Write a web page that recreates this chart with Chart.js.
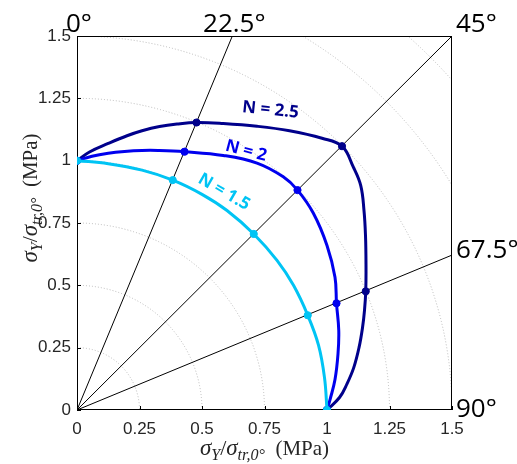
<!DOCTYPE html>
<html lang="en">
<head>
<meta charset="UTF-8">
<title>Yield loci</title>
<script src="https://cdn.jsdelivr.net/npm/chart.js"></script>
<style>
  body { margin: 0; background: #fff; }
  #wrap { width: 517px; height: 464px; }
</style>
</head>
<body>
<div id="wrap"><canvas id="locus"></canvas></div>
<script>
// values
const tickValues = [0, 0.25, 0.5, 0.75, 1, 1.25, 1.5];
const tickLabels = ['0', '0.25', '0.5', '0.75', '1', '1.25', '1.5'];
const angleValues = [0, 22.5, 45, 67.5, 90];
const angleLabels = ['0°', '22.5°', '45°', '67.5°', '90°'];
const arcRadii = [0.25, 0.5, 0.75, 1, 1.25, 1.5, 1.75, 2];
const seriesNames = ['N = 1.5', 'N = 2', 'N = 2.5'];

// N = 1.5
const n15X = [0, 0.125, 0.26, 0.383, 0.5, 0.6, 0.707, 0.8, 0.866, 0.923, 0.966, 0.99, 1];
const n15Y = [1, 0.988, 0.962, 0.922, 0.865, 0.8, 0.706, 0.6, 0.5, 0.38, 0.26, 0.13, 0];
const n15MarkX = [0, 0.383, 0.707, 0.923, 1];
const n15MarkY = [1, 0.922, 0.706, 0.38, 0];

// N = 2
const n2X = [0, 0.06, 0.125, 0.19, 0.26, 0.325, 0.43, 0.585, 0.72, 0.825, 0.882, 0.945, 1.0, 1.032, 1.038, 1.047, 1.044, 1.032, 1.013, 1];
const n2Y = [1, 1.018, 1.03, 1.037, 1.041, 1.041, 1.036, 1.021, 0.99, 0.935, 0.882, 0.79, 0.66, 0.532, 0.428, 0.32, 0.225, 0.122, 0.045, 0];
const n2MarkX = [0, 0.43, 0.882, 1.038, 1];
const n2MarkY = [1, 1.036, 0.882, 0.428, 0];

// N = 2.5
const n25X = [0, 0.05, 0.125, 0.2, 0.26, 0.33, 0.4, 0.478, 0.585, 0.72, 0.85, 0.98, 1.06, 1.105, 1.135, 1.148, 1.154, 1.156, 1.155, 1.15, 1.142, 1.128, 1.107, 1.08, 1.05, 1];
const n25Y = [1, 1.035, 1.069, 1.1, 1.12, 1.137, 1.147, 1.153, 1.149, 1.138, 1.12, 1.09, 1.058, 0.975, 0.9, 0.8, 0.7, 0.58, 0.476, 0.4, 0.33, 0.25, 0.17, 0.105, 0.05, 0];
const n25MarkX = [0, 0.478, 1.06, 1.155, 1];
const n25MarkY = [1, 1.153, 1.058, 0.476, 0];

const colours = ['#00c4f4', '#0000ee', '#00008b'];

// where the "N = ..." texts sit (data units) and their tilt in degrees
const curveLabelPos = [
  { x: 0.588, y: 0.874, rot: 30 },
  { x: 0.676, y: 1.039, rot: 15 },
  { x: 0.774, y: 1.203, rot: 6 }
];

function pts(xs, ys) {
  return xs.map((v, i) => ({ x: v, y: ys[i] }));
}

function lineSet(xs, ys, col, order) {
  return {
    data: pts(xs, ys), showLine: true, borderColor: col, borderWidth: 3,
    pointRadius: 0, tension: 0.4, fill: false, order: order
  };
}

function markSet(xs, ys, col, order) {
  return {
    data: pts(xs, ys), showLine: false, pointRadius: 3.6,
    pointBackgroundColor: col, pointBorderColor: col, pointBorderWidth: 1, order: order
  };
}

// axis title pieces: size in px, italic flag, lowered as subscript
const titleParts = () => [
  { t: 'σ', it: true, size: 23 }, { t: 'Y', it: true, sub: true, size: 16 },
  { t: '/', size: 22 },
  { t: 'σ', it: true, size: 23 }, { t: 'tr,0°', it: true, sub: true, size: 16 },
  { t: '  (MPa)', size: 21 }
];

function drawMath(ctx, parts, cx, base) {
  let total = 0;
  parts.forEach(p => {
    ctx.font = (p.it ? 'italic ' : '') + p.size + 'px "Liberation Serif"';
    p.w = ctx.measureText(p.t).width;
    total += p.w;
  });
  let x = cx - total / 2;
  parts.forEach(p => {
    ctx.font = (p.it ? 'italic ' : '') + p.size + 'px "Liberation Serif"';
    ctx.fillText(p.t, x, base + (p.sub ? 5 : 0));
    x += p.w;
  });
}

const polarDecor = {
  id: 'polarDecor',
  beforeDatasetsDraw(chart) {
    const { ctx, chartArea: a, scales: { x, y } } = chart;
    const ox = x.getPixelForValue(0), oy = y.getPixelForValue(0);
    ctx.save();
    ctx.beginPath();
    ctx.rect(a.left, a.top, a.right - a.left, a.bottom - a.top);
    ctx.clip();

    // dotted circles
    ctx.strokeStyle = '#b8b8b8';
    ctx.lineWidth = 1;
    ctx.setLineDash([1, 2]);
    arcRadii.forEach(r => {
      ctx.beginPath();
      ctx.ellipse(ox, oy, x.getPixelForValue(r) - ox, oy - y.getPixelForValue(r), 0, -Math.PI / 2, 0);
      ctx.stroke();
    });
    ctx.setLineDash([]);

    // radial lines
    ctx.strokeStyle = '#000';
    angleValues.forEach(deg => {
      const th = deg * Math.PI / 180, s = Math.sin(th), c = Math.cos(th);
      const t = 1.5 / Math.max(s, c);
      ctx.beginPath();
      ctx.moveTo(ox, oy);
      ctx.lineTo(x.getPixelForValue(t * s), y.getPixelForValue(t * c));
      ctx.stroke();
    });
    ctx.restore();

    // box and inward ticks
    ctx.save();
    ctx.strokeStyle = '#000';
    ctx.lineWidth = 1;
    ctx.strokeRect(a.left + 0.5, a.top + 0.5, a.right - a.left - 1, a.bottom - a.top - 1);
    ctx.beginPath();
    tickValues.forEach(v => {
      const px = Math.round(x.getPixelForValue(v)) + 0.5;
      ctx.moveTo(px, a.bottom);
      ctx.lineTo(px, a.bottom - 4);
      const py = Math.round(y.getPixelForValue(v)) + 0.5;
      ctx.moveTo(a.left, py);
      ctx.lineTo(a.left + 4, py);
    });
    ctx.stroke();
    ctx.restore();
  },
  afterDraw(chart) {
    const { ctx, chartArea: a, scales: { x, y } } = chart;
    ctx.save();

    // angle labels round the box
    ctx.fillStyle = '#000';
    ctx.font = '26px "Open Sans"';
    angleValues.forEach((deg, i) => {
      const th = deg * Math.PI / 180, s = Math.sin(th), c = Math.cos(th);
      const t = 1.5 / Math.max(s, c);
      if (deg < 45) {
        ctx.textAlign = 'center';
        ctx.textBaseline = 'alphabetic';
        ctx.fillText(angleLabels[i], x.getPixelForValue(t * s) + 2, a.top - 4);
      } else {
        ctx.textAlign = 'left';
        ctx.textBaseline = 'middle';
        ctx.fillText(angleLabels[i], a.right + 4, y.getPixelForValue(t * c * 1.03));
      }
    });

    // curve names
    ctx.font = 'bold 17px "Open Sans"';
    ctx.textAlign = 'center';
    ctx.textBaseline = 'middle';
    curveLabelPos.forEach((p, i) => {
      ctx.save();
      ctx.translate(x.getPixelForValue(p.x), y.getPixelForValue(p.y));
      ctx.rotate(p.rot * Math.PI / 180);
      ctx.fillStyle = colours[i];
      ctx.fillText(seriesNames[i], 0, 0);
      ctx.restore();
    });

    // axis titles
    ctx.fillStyle = '#262626';
    ctx.textAlign = 'left';
    ctx.textBaseline = 'alphabetic';
    drawMath(ctx, titleParts(), (a.left + a.right) / 2, 455);
    ctx.translate(37, (a.top + a.bottom) / 2 - 25);
    ctx.rotate(-Math.PI / 2);
    drawMath(ctx, titleParts(), 0, 0);
    ctx.restore();
  }
};

const tickOpts = {
  callback: v => tickLabels[tickValues.indexOf(v)],
  font: { family: 'Liberation Sans', size: 17 },
  color: '#262626',
  maxRotation: 0,
  autoSkip: false
};

new Chart(document.getElementById('locus'), {
  type: 'scatter',
  data: {
    datasets: [
      markSet(n15MarkX, n15MarkY, colours[0], 0),
      lineSet(n15X, n15Y, colours[0], 1),
      markSet(n2MarkX, n2MarkY, colours[1], 2),
      lineSet(n2X, n2Y, colours[1], 3),
      markSet(n25MarkX, n25MarkY, colours[2], 4),
      lineSet(n25X, n25Y, colours[2], 5)
    ]
  },
  options: {
    responsive: true,
    maintainAspectRatio: false,
    animation: false,
    layout: { padding: { top: 36, right: 65, left: 0, bottom: 0 } },
    plugins: { legend: { display: false }, tooltip: { enabled: false } },
    scales: {
      x: {
        type: 'linear', min: 0, max: 1.5,
        afterBuildTicks: s => { s.ticks = tickValues.map(v => ({ value: v })); },
        ticks: Object.assign({ padding: 9 }, tickOpts),
        grid: { display: false, drawTicks: false },
        border: { display: false },
        afterFit: s => { s.height = 54; }
      },
      y: {
        type: 'linear', min: 0, max: 1.5,
        afterBuildTicks: s => { s.ticks = tickValues.map(v => ({ value: v })); },
        ticks: Object.assign({ padding: 6 }, tickOpts),
        grid: { display: false, drawTicks: false },
        border: { display: false },
        afterFit: s => { s.width = 77; }
      }
    }
  },
  plugins: [polarDecor]
});
</script>
</body>
</html>
